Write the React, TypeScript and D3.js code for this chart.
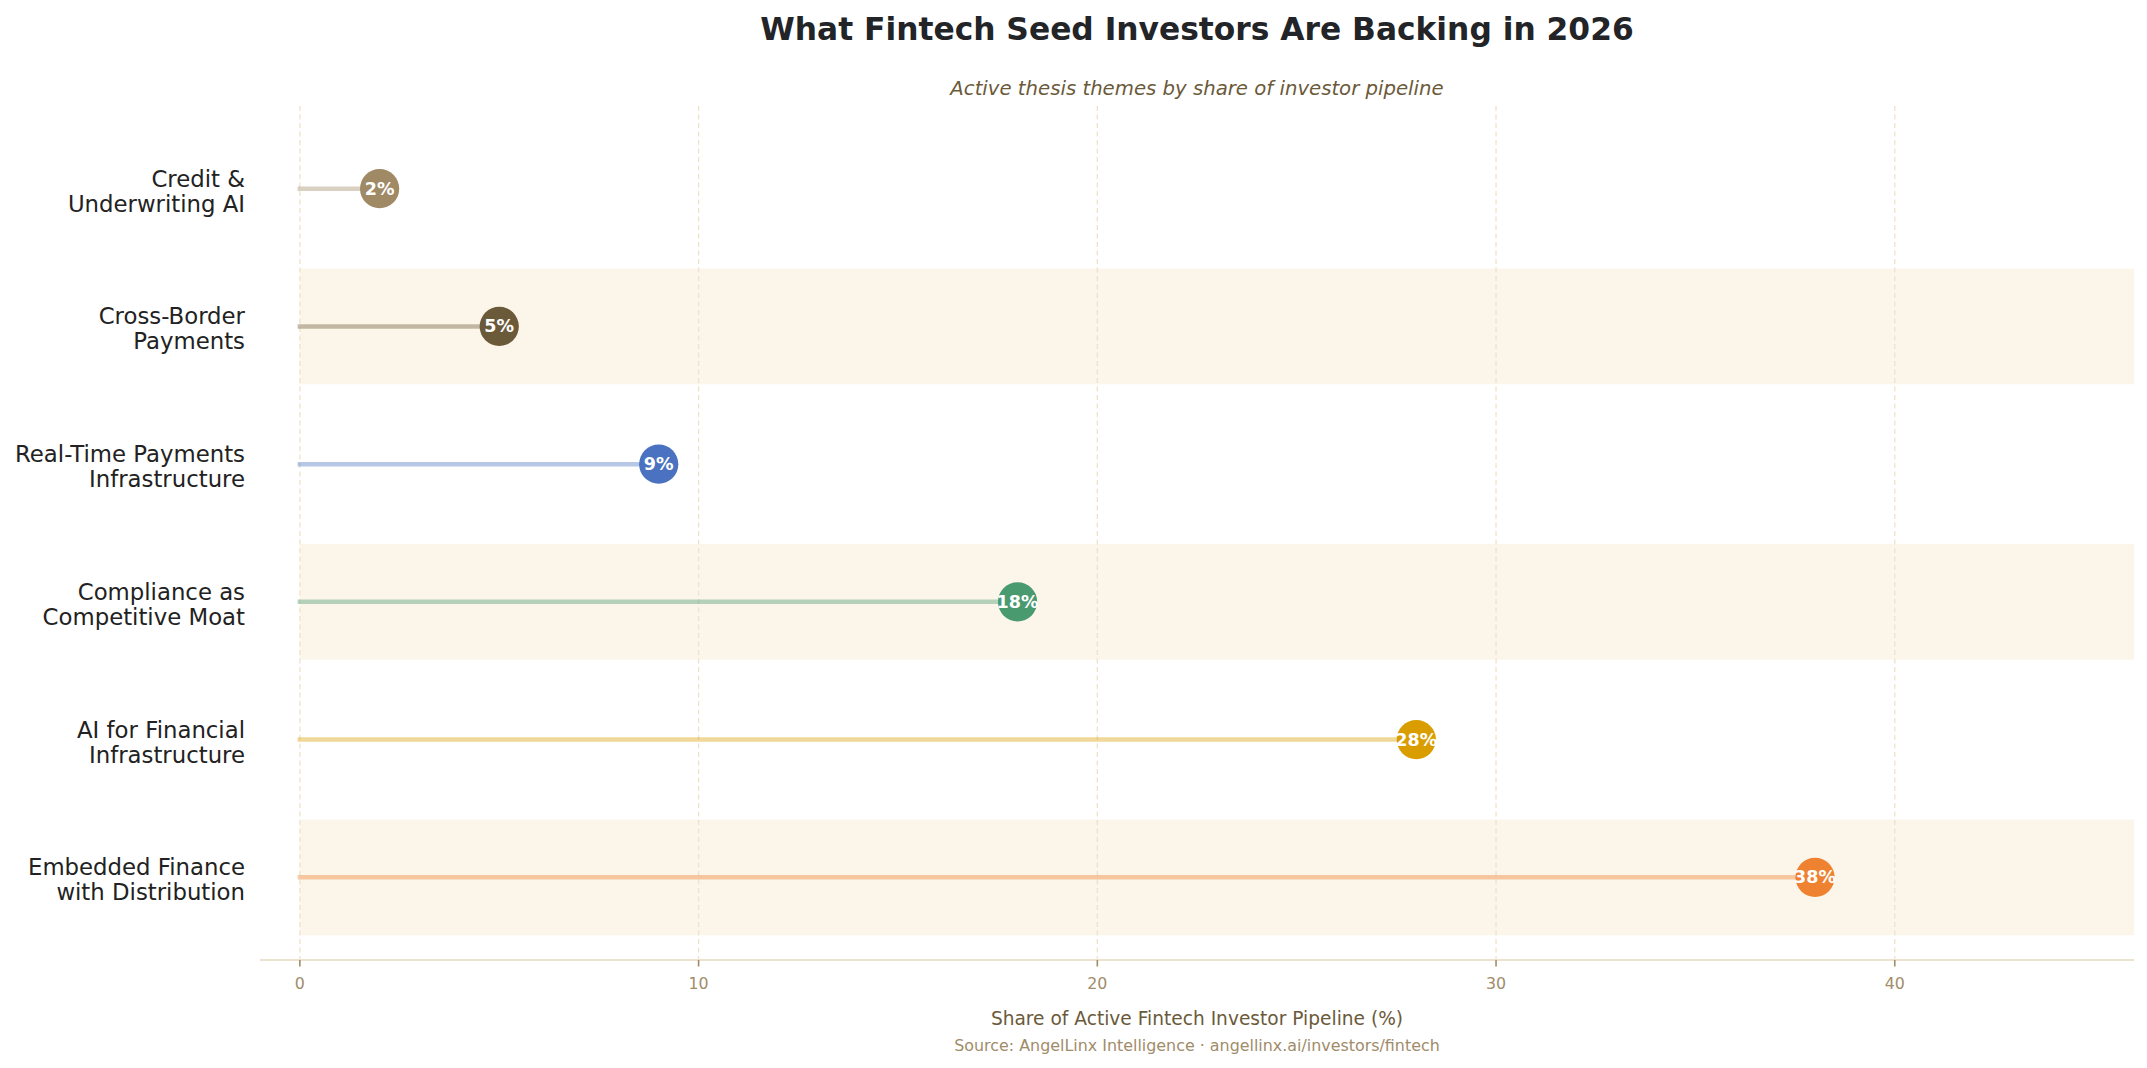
import React from "react";
import * as d3 from "d3";

const categories: string[][] = [
  ["Credit &", "Underwriting AI"],
  ["Cross-Border", "Payments"],
  ["Real-Time Payments", "Infrastructure"],
  ["Compliance as", "Competitive Moat"],
  ["AI for Financial", "Infrastructure"],
  ["Embedded Finance", "with Distribution"],
];
const values: number[] = [2, 5, 9, 18, 28, 38];
const dotColors: string[] = ["#a08a65", "#6b5a3a", "#4a72c0", "#4a9a70", "#d99d00", "#ee8230"];
const xTicks: number[] = [0, 10, 20, 30, 40];

const title = "What Fintech Seed Investors Are Backing in 2026";
const subtitle = "Active thesis themes by share of investor pipeline";
const xLabel = "Share of Active Fintech Investor Pipeline (%)";
const source = "Source: AngelLinx Intelligence · angellinx.ai/investors/fintech";

const W = 2147;
const H = 1068;
const FONT = "'DejaVu Sans', sans-serif";

export default function App() {
  const left = 260;
  const right = 2134;
  const top = 106;
  const bottom = 960;
  const x = d3.scaleLinear().domain([-1, 46]).range([left, right]);
  const n = categories.length;
  // index 0 = bottom category
  const y = d3.scaleLinear().domain([-0.6, n - 0.4]).range([bottom, top]);
  const idx = (i: number) => n - 1 - i;
  const cx = (left + right) / 2;

  return (
    <svg
      width={W}
      height={H}
      style={{ position: "absolute", left: 0, top: 0, background: "#fff" }}
      fontFamily={FONT}
    >
      <rect x={0} y={0} width={W} height={H} fill="#ffffff" />
      {/* bands */}
      {categories.map((_, i) =>
        idx(i) % 2 === 0 ? (
          <rect
            key={"band" + i}
            x={x(0)}
            y={y(idx(i) + 0.42)}
            width={x(46) - x(0)}
            height={y(idx(i) - 0.42) - y(idx(i) + 0.42)}
            fill="#fcf5ea"
          />
        ) : null
      )}
      {/* grid */}
      {xTicks.map((t) => (
        <line
          key={"g" + t}
          x1={x(t)}
          x2={x(t)}
          y1={top}
          y2={bottom}
          stroke="#efe2cb"
          strokeWidth={1.3}
          strokeDasharray="5,3.5"
        />
      ))}
      {/* axis spine */}
      <line x1={left} x2={right} y1={bottom} y2={bottom} stroke="#ebe3cf" strokeWidth={2} />
      {xTicks.map((t) => (
        <g key={"t" + t}>
          <line x1={x(t)} x2={x(t)} y1={bottom} y2={bottom + 6.5} stroke="#a08c6a" strokeWidth={1.6} />
          <text
            x={x(t)}
            y={bottom + 28.5}
            textAnchor="middle"
            fontSize={15.8}
            fill="#a08c6a"
          >
            {t}
          </text>
        </g>
      ))}
      {/* lollipops */}
      {values.map((v, i) => (
        <line
          key={"l" + i}
          x1={x(0)}
          x2={x(v)}
          y1={y(idx(i))}
          y2={y(idx(i))}
          stroke={dotColors[i]}
          strokeOpacity={0.4}
          strokeWidth={4.5}
          strokeLinecap="square"
        />
      ))}
      {values.map((v, i) => (
        <g key={"d" + i}>
          <circle cx={x(v)} cy={y(idx(i))} r={19.6} fill={dotColors[i]} />
          <text
            x={x(v)}
            y={y(idx(i))}
            dy="0.34em"
            textAnchor="middle"
            fontSize={17.5}
            fontWeight="bold"
            fill="#ffffff"
          >
            {v}%
          </text>
        </g>
      ))}
      {/* y labels */}
      {categories.map((lines, i) => (
        <text key={"y" + i} x={245} y={y(idx(i))} textAnchor="end" fontSize={22.8} fill="#222222">
          <tspan x={245} dy={-2}>{lines[0]}</tspan>
          <tspan x={245} dy={25}>{lines[1]}</tspan>
        </text>
      ))}
      {/* titles */}
      <text x={cx} y={29} dy="0.36em" textAnchor="middle" fontSize={31.3} fontWeight="bold" fill="#222428">
        {title}
      </text>
      <text x={cx} y={88} dy="0.36em" textAnchor="middle" fontSize={19.7} fontStyle="italic" fill="#6b5a3a">
        {subtitle}
      </text>
      <text x={cx} y={1018} dy="0.36em" textAnchor="middle" fontSize={18.6} fill="#6b5a3a">
        {xLabel}
      </text>
      <text x={cx} y={1045} dy="0.36em" textAnchor="middle" fontSize={15.9} fill="#a08c6a">
        {source}
      </text>
    </svg>
  );
}
